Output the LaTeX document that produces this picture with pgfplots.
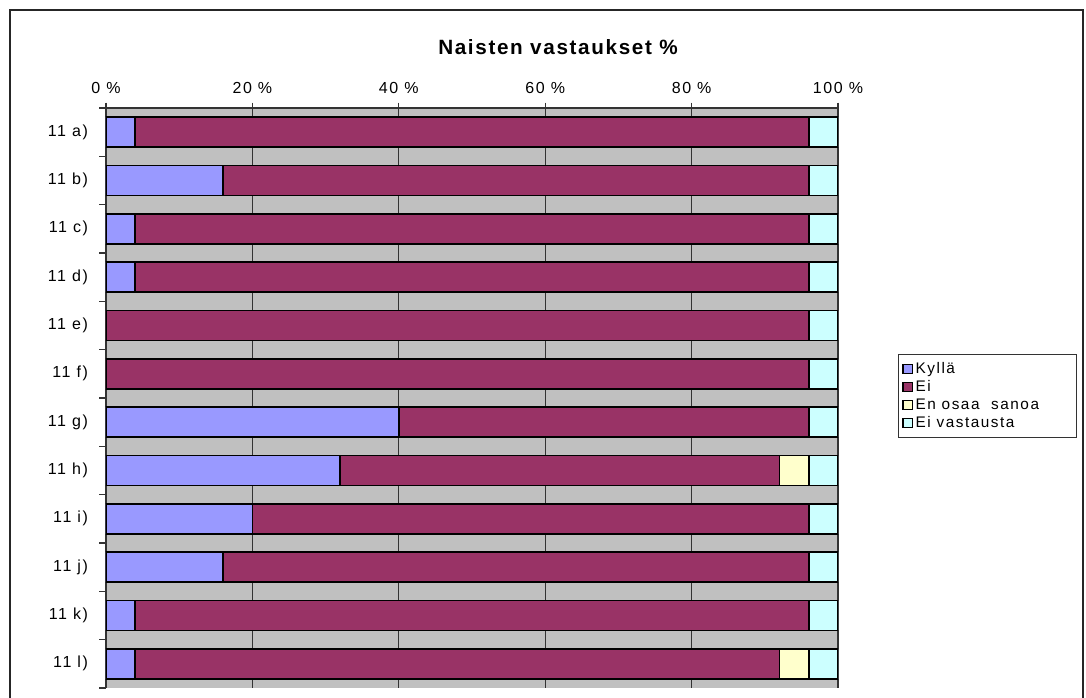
\documentclass[border=0pt]{standalone}
\usepackage{pgfplots}
\usepackage{pgfplotstable}
\pgfplotsset{compat=1.18}
\usepackage{fontspec}
\setmainfont{Liberation Sans}[LetterSpace=10]
\newfontfamily\titlefont{Liberation Sans}[LetterSpace=8]
\definecolor{ckyl}{HTML}{9999FF}
\definecolor{cei}{HTML}{993366}
\definecolor{ceos}{HTML}{FFFFCC}
\definecolor{cev}{HTML}{CCFFFF}
\definecolor{cbg}{HTML}{C0C0C0}
\pgfplotstableread{
y kyl ei eos ev
0 4 92 0 4
1 16 80 0 4
2 4 92 0 4
3 4 92 0 4
4 0 96 0 4
5 0 96 0 4
6 40 56 0 4
7 32 60 4 4
8 20 76 0 4
9 16 80 0 4
10 4 92 0 4
11 4 88 4 4
}\data
\begin{document}
\begin{tikzpicture}
\useasboundingbox (0,0) rectangle (814.5pt,523.5pt);
\draw[line width=0.8pt, black!85] (7.5pt,-7.5pt) rectangle (812.25pt,516pt);
\node[font=\titlefont\fontsize{15.5}{17}\selectfont\bfseries] at (418.5pt,488.25pt) {Naisten vastaukset \%};
\begin{axis}[
  at={(79.5pt,7.5pt)}, anchor=south west,
  scale only axis, width=549pt, height=435pt,
  xbar stacked, bar width=0.62,
  xmin=0, xmax=100, ymin=-0.5, ymax=11.5,
  y dir=reverse,
  axis background/.style={fill=cbg},
  axis x line*=top, axis y line*=left,
  axis line style={line width=0.8pt, black!80, -},
  xtick={0,20,40,60,80,100},
  xticklabels={0 \%,20 \%,40 \%,60 \%,80 \%,100 \%},
  xmajorgrids, major grid style={black!80, line width=0.8pt},
  tick align=outside, major tick length=4pt,
  major x tick style={black!80, line width=0.8pt},
  ytick={0,...,11},
  yticklabels={11 a),11 b),11 c),11 d),11 e),11 f),11 g),11 h),11 i),11 j),11 k),11 l)},
  major y tick style={draw=none},
  minor ytick={-0.5,0.5,...,11.5},
  minor tick length=5pt,
  minor y tick style={black!80, line width=0.8pt},
  ticklabel style={font=\fontsize{12}{14}\selectfont},
  xticklabel style={yshift=3pt},
  yticklabel style={xshift=-6pt},
  every axis plot/.append style={draw=black, line width=1.3pt},
  legend style={at={(1.082,0.576)}, anchor=north west, draw=black!80, line width=0.6pt,
    font=\fontsize{11.5}{13}\selectfont, row sep=-0.2pt, inner xsep=3pt, inner ysep=4pt},
  legend cell align=left,
  legend image code/.code={\draw[#1, draw=black, line width=0.9pt] (0pt,-3.5pt) rectangle (7pt,3.5pt);},
]
\addplot[fill=ckyl] table[x=kyl, y=y] {\data};
\addplot[fill=cei] table[x=ei, y=y] {\data};
\addplot[fill=ceos] table[x=eos, y=y] {\data};
\addplot[fill=cev] table[x=ev, y=y] {\data};
\legend{Kyllä,Ei,En osaa\ \ sanoa\hspace*{23pt},Ei vastausta}
\end{axis}
\end{tikzpicture}
\end{document}
